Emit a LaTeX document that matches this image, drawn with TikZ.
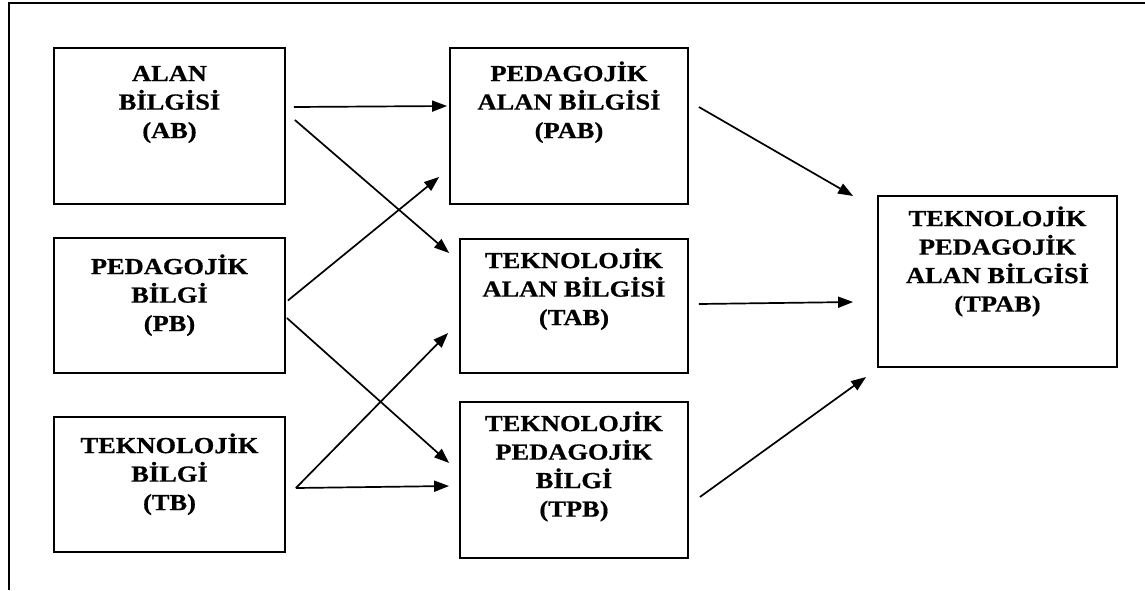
\documentclass[tikz,border=0pt]{standalone}
\usepackage{fontspec}
\setmainfont{Liberation Serif}[FakeStretch=1.15, FakeBold=0.6]
\usetikzlibrary{arrows.meta}

\begin{document}
\begin{tikzpicture}[x=1pt, y=-1pt,
    kutu/.style={draw, line width=1.8pt, inner sep=0pt},
    yazi/.style={align=center, inner sep=0pt, anchor=base,
      font=\fontsize{23}{28.5}\selectfont\bfseries},
    ok/.style={-{Triangle[length=15pt,width=11pt]}, line width=1.7pt}]
    \useasboundingbox (0,0) rectangle (1145,590);
    % cerceve
    \draw [line width=2.6pt] (8,3)--(1145,3);
    \draw [line width=1.8pt] (9,3)--(9,590);

    % sol sutun
    \node [kutu, minimum width=231, minimum height=156] (AB) at (169.5,126) {};
    \node [kutu, minimum width=231, minimum height=135] (PB) at (169.5,305.5) {};
    \node [kutu, minimum width=231, minimum height=135] (TB) at (169.5,484.5) {};
    % orta sutun
    \node [kutu, minimum width=238, minimum height=156] (PAB) at (569,126) {};
    \node [kutu, minimum width=228, minimum height=134] (TAB) at (574,306) {};
    \node [kutu, minimum width=228, minimum height=156] (TPB) at (574,480) {};
    % sag
    \node [kutu, minimum width=239, minimum height=171] (TPAB) at (997.5,281.5) {};

    % yazilar (base = son satir)
    \node [yazi] (ABt) at ([shift={(0,91)}]AB.north) {ALAN\\BİLGİSİ\\(AB)};
    \node [yazi] (PBt) at ([shift={(0,94)}]PB.north) {PEDAGOJİK\\BİLGİ\\(PB)};
    \node [yazi] (TBt) at ([shift={(0,94)}]TB.north) {TEKNOLOJİK\\BİLGİ\\(TB)};
    \node [yazi] (PABt) at ([shift={(0,91)}]PAB.north) {PEDAGOJİK\\ALAN BİLGİSİ\\(PAB)};
    \node [yazi] (TABt) at ([shift={(0,87)}]TAB.north) {TEKNOLOJİK\\ALAN BİLGİSİ\\(TAB)};
    \node [yazi] (TPBt) at ([shift={(0,115.5)}]TPB.north) {TEKNOLOJİK\\PEDAGOJİK\\BİLGİ\\(TPB)};
    \node [yazi] (TPABt) at ([shift={(0,116.5)}]TPAB.north) {TEKNOLOJİK\\PEDAGOJİK\\ALAN BİLGİSİ\\(TPAB)};

    % oklar
    \draw [ok] ([shift={(8,-19)}]AB.east)--([shift={(-2,-20)}]PAB.west);
    \draw [ok] ([shift={(9,-6)}]AB.east)--([shift={(-10,-53)}]TAB.west);
    \draw [ok] ([shift={(2,-5)}]PB.east)--([shift={(-10,51)}]PAB.west);
    \draw [ok] ([shift={(1,12.5)}]PB.east)--([shift={(-10,-17)}]TPB.west);
    \draw [ok] ([shift={(10,3.5)}]TB.east)--([shift={(-11,27)}]TAB.west);
    \draw [ok] ([shift={(10,3.5)}]TB.east)--([shift={(-10,6)}]TPB.west);
    \draw [ok] ([shift={(10,-19)}]PAB.east)--([shift={(-24,-85.5)}]TPAB.west);
    \draw [ok] ([shift={(10,-2)}]TAB.east)--([shift={(-24,20.5)}]TPAB.west);
    \draw [ok] ([shift={(11,17)}]TPB.east)--([shift={(-11,95.5)}]TPAB.west);
\end{tikzpicture}
\end{document}
